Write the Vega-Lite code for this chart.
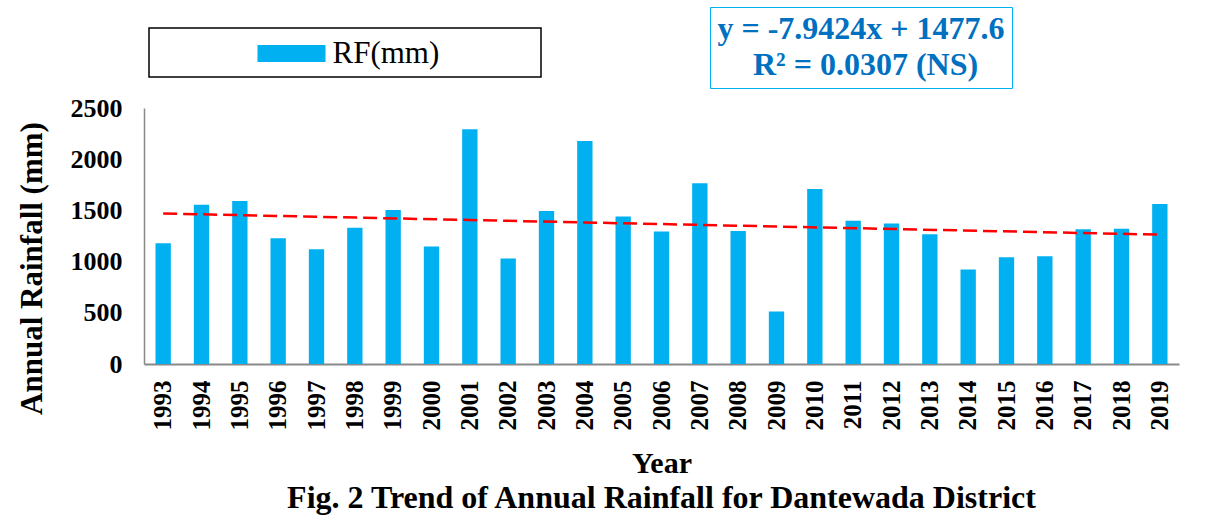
{
  "$schema": "https://vega.github.io/schema/vega-lite/v6.json",
  "width": 1035,
  "height": 256,
  "autosize": {"type": "none"},
  "padding": {"left": 144, "top": 108, "right": 31, "bottom": 156},
  "background": "white",
  "config": {
    "font": "Liberation Serif",
    "view": {"stroke": null}
  },
  "title": {
    "text": "Fig. 2 Trend of Annual Rainfall for Dantewada District",
    "orient": "bottom",
    "anchor": "middle",
    "font": "Liberation Serif",
    "fontSize": 32,
    "fontWeight": "bold",
    "color": "black",
    "offset": 5
  },
  "datasets": {
    "rain": [
      {"Year": "1993", "RF": 1180, "Series": "RF(mm)"},
      {"Year": "1994", "RF": 1555, "Series": "RF(mm)"},
      {"Year": "1995", "RF": 1591, "Series": "RF(mm)"},
      {"Year": "1996", "RF": 1229, "Series": "RF(mm)"},
      {"Year": "1997", "RF": 1121, "Series": "RF(mm)"},
      {"Year": "1998", "RF": 1330, "Series": "RF(mm)"},
      {"Year": "1999", "RF": 1503, "Series": "RF(mm)"},
      {"Year": "2000", "RF": 1147, "Series": "RF(mm)"},
      {"Year": "2001", "RF": 2292, "Series": "RF(mm)"},
      {"Year": "2002", "RF": 1030, "Series": "RF(mm)"},
      {"Year": "2003", "RF": 1493, "Series": "RF(mm)"},
      {"Year": "2004", "RF": 2178, "Series": "RF(mm)"},
      {"Year": "2005", "RF": 1441, "Series": "RF(mm)"},
      {"Year": "2006", "RF": 1294, "Series": "RF(mm)"},
      {"Year": "2007", "RF": 1764, "Series": "RF(mm)"},
      {"Year": "2008", "RF": 1298, "Series": "RF(mm)"},
      {"Year": "2009", "RF": 512, "Series": "RF(mm)"},
      {"Year": "2010", "RF": 1708, "Series": "RF(mm)"},
      {"Year": "2011", "RF": 1399, "Series": "RF(mm)"},
      {"Year": "2012", "RF": 1372, "Series": "RF(mm)"},
      {"Year": "2013", "RF": 1268, "Series": "RF(mm)"},
      {"Year": "2014", "RF": 922, "Series": "RF(mm)"},
      {"Year": "2015", "RF": 1043, "Series": "RF(mm)"},
      {"Year": "2016", "RF": 1053, "Series": "RF(mm)"},
      {"Year": "2017", "RF": 1317, "Series": "RF(mm)"},
      {"Year": "2018", "RF": 1320, "Series": "RF(mm)"},
      {"Year": "2019", "RF": 1562, "Series": "RF(mm)"}
    ],
    "trend": [
      {"Year": "1993", "Trend": 1469.66, "Stat": "R² = 0.0307 (NS)"},
      {"Year": "2019", "Trend": 1263.15, "Stat": "R² = 0.0307 (NS)"}
    ]
  },
  "layer": [
    {
      "data": {"name": "rain"},
      "mark": {"type": "bar"},
      "encoding": {
        "x": {
          "field": "Year",
          "type": "ordinal",
          "scale": {"paddingInner": 0.6, "paddingOuter": 0.3},
          "axis": {
            "title": "Year",
            "labelAngle": -90,
            "ticks": false,
            "tickSize": 0,
            "domainColor": "#898989",
            "domainWidth": 2,
            "labelFont": "Liberation Serif",
            "labelFontSize": 25,
            "labelFontWeight": "bold",
            "labelColor": "black",
            "labelPadding": 16,
            "titleFont": "Liberation Serif",
            "titleFontSize": 30,
            "titleFontWeight": "bold",
            "titleColor": "black",
            "titlePadding": 18
          }
        },
        "y": {
          "field": "RF",
          "type": "quantitative",
          "scale": {"domain": [0, 2500], "nice": false},
          "axis": {
            "title": "Annual Rainfall (mm)",
            "values": [0, 500, 1000, 1500, 2000, 2500],
            "format": "d",
            "grid": false,
            "ticks": false,
            "tickSize": 0,
            "domainColor": "#898989",
            "domainWidth": 1.5,
            "labelFont": "Liberation Serif",
            "labelFontSize": 26,
            "labelFontWeight": "bold",
            "labelColor": "black",
            "labelPadding": 22,
            "titleFont": "Liberation Serif",
            "titleFontSize": 31,
            "titleFontWeight": "bold",
            "titleColor": "black",
            "titlePadding": 22,
            "titleY": 160
          }
        },
        "fill": {
          "field": "Series",
          "type": "nominal",
          "scale": {"range": ["#00B0F0"]},
          "legend": {
            "title": null,
            "orient": "none",
            "legendX": 5,
            "legendY": -80,
            "strokeColor": "black",
            "padding": 8.5,
            "symbolType": "M-2,-0.5H2V0.5H-2Z",
            "symbolSize": 1156,
            "symbolStrokeWidth": 0,
            "symbolOffset": 117,
            "labelOffset": 24,
            "labelFont": "Liberation Serif",
            "labelFontSize": 31,
            "labelColor": "black",
            "labelLimit": 500,
            "labelExpr": "datum.label + '\u2003\u2003\u2003\u200b'",
            "encode": {"legend": {"update": {"strokeWidth": {"value": 1.5}}}}
          }
        }
      }
    },
    {
      "data": {"name": "trend"},
      "mark": {"type": "line", "color": "#FF0000", "strokeWidth": 2.5},
      "encoding": {
        "x": {"field": "Year", "type": "ordinal"},
        "y": {"field": "Trend", "type": "quantitative"},
        "strokeDash": {
          "field": "Stat",
          "type": "nominal",
          "scale": {"range": [[14, 6]]},
          "legend": {
            "title": "y = -7.9424x + 1477.6",
            "orient": "none",
            "legendX": 566,
            "legendY": -101,
            "strokeColor": "#00B0F0",
            "padding": 7,
            "titleAnchor": "middle",
            "titleFont": "Liberation Serif",
            "titleFontSize": 32,
            "titleFontWeight": "bold",
            "titleColor": "#0070C0",
            "titleLimit": 500,
            "titlePadding": 3,
            "symbolOpacity": 0,
            "symbolSize": 100,
            "labelOffset": -22,
            "labelFont": "Liberation Serif",
            "labelFontSize": 32,
            "labelFontWeight": "bold",
            "labelColor": "#0070C0",
            "labelLimit": 500,
            "encode": {"legend": {"update": {"strokeWidth": {"value": 2}}}}
          }
        }
      }
    }
  ]
}
